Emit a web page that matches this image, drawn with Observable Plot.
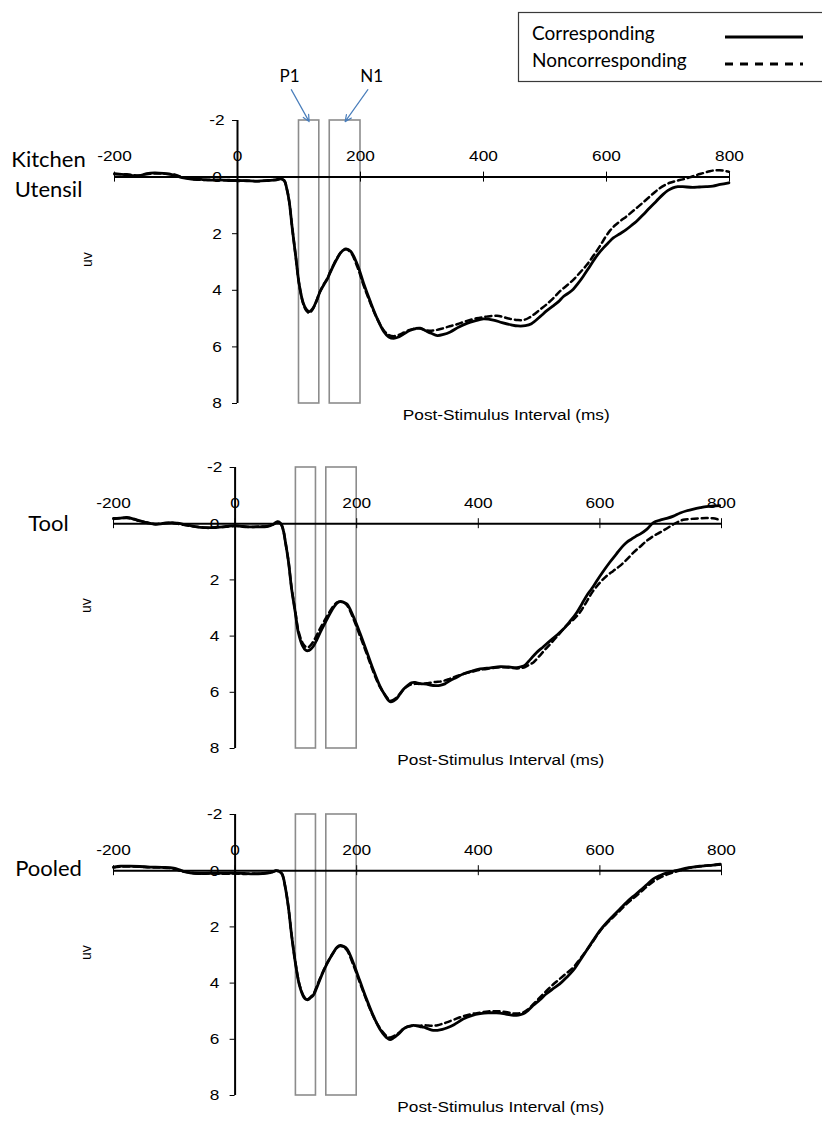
<!DOCTYPE html>
<html>
<head>
<meta charset="utf-8">
<script src="https://cdn.jsdelivr.net/npm/d3@7"></script>
<script src="https://cdn.jsdelivr.net/npm/@observablehq/plot@0.6"></script>
<style>
  html, body { margin: 0; padding: 0; background: #fff; }
  #page { position: relative; width: 822px; height: 1121px; overflow: hidden; background: #fff; }
  .panel { position: absolute; left: 0; }
  #legend { position: absolute; left: 0; top: 0; }
</style>
</head>
<body>
<div id="page"></div>
<script>
// ---- Axis ticks, labels and component windows ----
const xTicks = [-200, 0, 200, 400, 600, 800];
const yTicks = [-2, 0, 2, 4, 6, 8];
const seriesNames = ["Corresponding", "Noncorresponding"];
const panelNames = ["Kitchen\nUtensil", "Tool", "Pooled"];
const xLabel = "Post-Stimulus Interval (ms)";
const yLabel = "uv";
// ERP component windows (ms)
const windows = [
  {name: "P1", start: 100, end: 133},
  {name: "N1", start: 150, end: 200}
];

// ---- Grand-average waveforms: [time (ms), amplitude (uV)] ----
const kitchenCorr = [[-200,-0.12],[-180,-0.08],[-162,-0.04],[-148,-0.12],[-135,-0.15],[-120,-0.13],[-105,-0.08],[-90,0.02],[-75,0.07],[-59,0.08],[-45,0.11],[-32,0.1],[-15,0.12],[0,0.12],[15,0.13],[32,0.14],[50,0.12],[62,0.1],[70,0.06],[76,0.12],[80,0.4],[84,0.85],[89,1.8],[95,2.86],[100,3.75],[107,4.46],[112,4.68],[117,4.75],[122,4.66],[128,4.4],[134,4.06],[140,3.82],[146,3.6],[151,3.36],[157,3.08],[163,2.84],[168,2.67],[176,2.54],[184,2.62],[195,3.1],[205,3.75],[216,4.4],[227,4.99],[238,5.46],[246,5.65],[254,5.7],[262,5.65],[270,5.55],[280,5.42],[290,5.35],[297,5.34],[305,5.42],[315,5.52],[325,5.6],[335,5.56],[346,5.47],[360,5.3],[373,5.17],[386,5.08],[400,5.01],[416,5.05],[430,5.14],[445,5.22],[456,5.26],[468,5.25],[478,5.18],[492,4.93],[503,4.72],[514,4.54],[522,4.4],[530,4.22],[538,4.1],[546,3.96],[554,3.75],[562,3.51],[570,3.25],[578,2.98],[586,2.73],[595,2.5],[603,2.32],[611,2.15],[622,2.0],[632,1.86],[640,1.72],[649,1.56],[660,1.32],[670,1.09],[681,0.85],[692,0.61],[700,0.47],[708,0.38],[716,0.34],[724,0.34],[740,0.36],[751,0.35],[762,0.34],[773,0.32],[785,0.26],[799,0.2]];
const kitchenNonc = [[-200,-0.1],[-180,-0.1],[-162,-0.06],[-148,-0.1],[-135,-0.13],[-120,-0.12],[-105,-0.1],[-90,0.0],[-75,0.06],[-59,0.1],[-45,0.09],[-32,0.12],[-15,0.1],[0,0.14],[15,0.12],[32,0.15],[50,0.11],[62,0.1],[70,0.07],[76,0.13],[80,0.4],[84,0.85],[89,1.8],[95,2.86],[100,3.75],[107,4.48],[112,4.72],[117,4.8],[122,4.68],[128,4.4],[134,4.05],[140,3.8],[146,3.58],[151,3.34],[157,3.06],[163,2.82],[168,2.66],[176,2.55],[184,2.66],[195,3.18],[205,3.82],[216,4.45],[227,5.0],[238,5.42],[246,5.58],[254,5.62],[262,5.58],[270,5.5],[280,5.4],[290,5.35],[297,5.35],[308,5.42],[318,5.42],[330,5.37],[345,5.27],[357,5.2],[373,5.08],[389,4.99],[405,4.93],[422,4.9],[433,4.95],[443,5.01],[455,5.05],[465,5.05],[474,4.97],[481,4.87],[492,4.68],[503,4.49],[514,4.27],[524,4.04],[535,3.84],[546,3.63],[557,3.37],[568,3.1],[578,2.8],[589,2.45],[597,2.16],[605,1.91],[613,1.72],[622,1.56],[633,1.38],[643,1.2],[654,1.0],[665,0.79],[676,0.58],[686,0.4],[695,0.28],[703,0.2],[714,0.13],[724,0.08],[735,0.01],[746,-0.07],[757,-0.14],[768,-0.21],[777,-0.24],[784,-0.24],[792,-0.22],[799,-0.19]];

const toolCorr = [[-200,-0.19],[-190,-0.2],[-178,-0.22],[-167,-0.17],[-156,-0.1],[-144,-0.03],[-131,0.02],[-118,-0.01],[-104,-0.04],[-95,-0.02],[-85,0.02],[-72,0.08],[-57,0.13],[-44,0.14],[-30,0.13],[-15,0.1],[0,0.07],[12,0.1],[25,0.11],[40,0.11],[52,0.1],[58,0.07],[63,0.02],[67,-0.04],[70,-0.07],[74,-0.03],[77,0.07],[80,0.3],[82,0.55],[85,0.95],[88,1.38],[93,2.33],[99,3.16],[104,3.87],[111,4.35],[116,4.5],[120,4.52],[124,4.47],[129,4.35],[134,4.15],[140,3.87],[151,3.4],[162,2.98],[168,2.82],[173,2.77],[178,2.79],[184,2.86],[194,3.28],[205,3.87],[216,4.52],[227,5.18],[238,5.77],[247,6.12],[252,6.28],[256,6.34],[261,6.3],[266,6.22],[271,6.07],[277,5.89],[284,5.75],[290,5.66],[296,5.65],[304,5.69],[315,5.71],[321,5.74],[330,5.76],[337,5.75],[345,5.7],[353,5.59],[364,5.47],[375,5.35],[389,5.25],[403,5.17],[420,5.13],[436,5.09],[450,5.1],[463,5.12],[470,5.09],[477,5.03],[486,4.82],[496,4.58],[507,4.38],[518,4.17],[529,3.97],[540,3.75],[551,3.47],[562,3.16],[570,2.87],[578,2.57],[587,2.3],[595,2.03],[605,1.71],[616,1.38],[627,1.08],[638,0.79],[645,0.65],[652,0.55],[659,0.45],[666,0.37],[677,0.2],[688,-0.04],[699,-0.13],[710,-0.19],[721,-0.27],[732,-0.38],[743,-0.46],[754,-0.52],[765,-0.57],[775,-0.61],[786,-0.63],[797,-0.64]];
const toolNonc = [[-200,-0.17],[-190,-0.19],[-178,-0.2],[-167,-0.16],[-156,-0.09],[-144,-0.04],[-131,0.01],[-118,-0.02],[-104,-0.03],[-95,0.0],[-85,0.04],[-72,0.09],[-57,0.12],[-44,0.15],[-30,0.12],[-15,0.11],[0,0.08],[12,0.09],[25,0.12],[40,0.1],[52,0.1],[58,0.06],[63,0.02],[67,-0.03],[70,-0.06],[74,-0.02],[77,0.08],[80,0.3],[82,0.55],[85,0.95],[88,1.38],[93,2.3],[99,3.12],[104,3.8],[111,4.25],[116,4.38],[120,4.4],[124,4.33],[129,4.18],[134,3.98],[140,3.72],[151,3.3],[162,2.92],[168,2.8],[173,2.77],[178,2.8],[184,2.9],[194,3.35],[205,3.97],[216,4.6],[227,5.25],[238,5.8],[247,6.1],[252,6.24],[256,6.3],[261,6.26],[266,6.18],[271,6.05],[277,5.9],[284,5.78],[290,5.72],[296,5.7],[304,5.7],[315,5.68],[321,5.66],[330,5.63],[337,5.62],[345,5.58],[353,5.52],[364,5.43],[375,5.35],[389,5.27],[403,5.2],[420,5.15],[436,5.11],[450,5.12],[463,5.15],[470,5.14],[477,5.1],[485,5.0],[490,4.95],[500,4.72],[509,4.5],[518,4.29],[528,4.05],[536,3.85],[545,3.63],[556,3.42],[567,3.16],[578,2.78],[589,2.39],[600,2.1],[611,1.86],[622,1.68],[633,1.5],[644,1.28],[655,1.03],[666,0.82],[677,0.61],[688,0.44],[699,0.31],[710,0.17],[721,0.02],[729,-0.07],[737,-0.14],[750,-0.17],[764,-0.19],[775,-0.2],[786,-0.19],[798,-0.13]];

const pooledCorr = [[-200,-0.13],[-188,-0.16],[-173,-0.16],[-157,-0.15],[-140,-0.13],[-120,-0.12],[-101,-0.09],[-88,0.0],[-74,0.08],[-58,0.1],[-41,0.09],[-20,0.09],[0,0.09],[15,0.1],[30,0.11],[45,0.1],[55,0.08],[62,0.04],[67,0.0],[72,0.02],[77,0.11],[80,0.3],[82,0.53],[85,0.9],[88,1.36],[93,2.31],[99,3.26],[106,4.09],[113,4.5],[117,4.58],[120,4.59],[124,4.52],[129,4.42],[134,4.18],[140,3.85],[151,3.32],[162,2.9],[168,2.72],[173,2.66],[178,2.69],[184,2.78],[194,3.26],[205,3.91],[216,4.56],[227,5.15],[238,5.63],[247,5.89],[251,5.97],[255,6.01],[260,5.96],[266,5.86],[271,5.77],[277,5.63],[284,5.55],[290,5.51],[297,5.51],[304,5.55],[310,5.57],[318,5.63],[326,5.68],[333,5.68],[341,5.65],[348,5.6],[360,5.48],[375,5.28],[389,5.16],[403,5.09],[416,5.06],[430,5.06],[445,5.1],[458,5.15],[466,5.14],[474,5.09],[482,4.97],[490,4.8],[501,4.6],[512,4.38],[523,4.2],[534,4.03],[545,3.8],[556,3.55],[567,3.2],[578,2.84],[589,2.48],[600,2.13],[611,1.85],[622,1.6],[633,1.36],[644,1.12],[655,0.91],[666,0.71],[677,0.5],[688,0.29],[699,0.17],[710,0.08],[721,0.02],[732,-0.04],[742,-0.09],[753,-0.13],[764,-0.16],[775,-0.18],[786,-0.2],[798,-0.23]];
const pooledNonc = [[-200,-0.11],[-188,-0.14],[-173,-0.15],[-157,-0.14],[-140,-0.12],[-120,-0.11],[-101,-0.07],[-88,0.02],[-74,0.07],[-58,0.11],[-41,0.1],[-20,0.11],[0,0.1],[15,0.12],[30,0.1],[45,0.11],[55,0.07],[62,0.04],[67,0.0],[72,0.02],[77,0.11],[80,0.3],[82,0.53],[85,0.9],[88,1.36],[93,2.3],[99,3.24],[106,4.06],[113,4.47],[117,4.56],[120,4.57],[124,4.5],[129,4.38],[134,4.14],[140,3.82],[151,3.3],[162,2.9],[168,2.73],[173,2.68],[178,2.72],[184,2.83],[194,3.33],[205,3.97],[216,4.6],[227,5.17],[238,5.6],[247,5.84],[251,5.91],[255,5.94],[260,5.9],[266,5.82],[271,5.74],[277,5.62],[284,5.55],[290,5.53],[297,5.52],[304,5.52],[310,5.5],[318,5.51],[326,5.52],[333,5.5],[341,5.45],[348,5.4],[360,5.3],[375,5.18],[389,5.1],[403,5.05],[416,5.01],[430,5.0],[445,5.03],[458,5.08],[466,5.08],[474,5.04],[482,4.93],[490,4.76],[501,4.52],[512,4.28],[523,4.05],[534,3.85],[545,3.65],[556,3.45],[567,3.15],[578,2.84],[589,2.5],[600,2.15],[611,1.88],[622,1.65],[633,1.42],[644,1.18],[655,0.98],[666,0.78],[677,0.57],[688,0.38],[699,0.25],[710,0.14],[721,0.06],[732,-0.01],[742,-0.08],[753,-0.12],[764,-0.15],[775,-0.18],[786,-0.2],[798,-0.22]];

// ---- Drawing ----
const W = 822;
const AXIS_FONT = "Liberation Sans";
const axisText = {fontFamily: AXIS_FONT, fontSize: 15, fill: "black"};
const page = document.getElementById("page");

function drawPanel(cfg) {
  const {corr, nonc, name, top, height, marginTop, marginBottom, marginLeft, marginRight, callouts} = cfg;
  const innerH = height - marginTop - marginBottom;
  const innerW = W - marginLeft - marginRight;
  const yPerPx = 10 / innerH;
  const xPerPx = 1000 / innerW;
  const mid = (d) => (d.start + d.end) / 2;

  const marks = [
    // component windows
    Plot.rect(windows, {x1: "start", x2: "end", y1: -2, y2: 8, fill: "none", stroke: "#8c8c8c", strokeWidth: 1.6}),
    // axes crossing at the origin
    Plot.ruleY([0], {x1: -200, x2: 800, stroke: "black", strokeWidth: 2}),
    Plot.ruleX([0], {y1: -2, y2: 8, stroke: "black", strokeWidth: 2}),
    Plot.ruleX(xTicks, {x: (d) => d, y1: -5 * yPerPx, y2: 5 * yPerPx, stroke: "black", strokeWidth: 1}),
    Plot.ruleY(yTicks, {y: (d) => d, x1: -5 * xPerPx, x2: 0, stroke: "black", strokeWidth: 1}),
    Plot.text(xTicks, {x: (d) => d, y: 0, dy: -21, text: (d) => String(d), ...axisText}),
    Plot.text(yTicks, {x: 0, y: (d) => d, dx: -20.5, text: (d) => String(d), ...axisText}),
    // waveforms
    Plot.line(nonc, {x: (d) => d[0], y: (d) => d[1], stroke: "black", strokeWidth: 2.5, strokeDasharray: "6,4", curve: "catmull-rom"}),
    Plot.line(corr, {x: (d) => d[0], y: (d) => d[1], stroke: "black", strokeWidth: 2.8, curve: "catmull-rom"}),
    // titles
    Plot.text([xLabel], {x: 437, frameAnchor: "bottom", dy: 16, text: (d) => d, ...axisText}),
    Plot.text([yLabel], {frameAnchor: "left", dx: -27, dy: 5, rotate: -90, text: (d) => d,
      fontFamily: "Liberation Sans, sans-serif", fontSize: 14, fill: "black"}),
    Plot.text([name], {x: -200, y: 0, dx: 48 - marginLeft, dy: cfg.nameDy, text: (d) => d,
      fontFamily: "Lato", fontSize: 22, lineHeight: 1.36, fill: "black"})
  ];

  if (callouts) {
    const tail = {P1: -29, N1: 37};
    const lab = {P1: -32, N1: 43};
    marks.push(
      Plot.arrow(windows, {x1: (d) => mid(d) + tail[d.name], y1: -3.09, x2: (d) => mid(d), y2: -1.96,
        stroke: "#4a7ebb", strokeWidth: 1.2, headLength: 9, headAngle: 50}),
      Plot.text(windows, {x: (d) => mid(d) + lab[d.name], y: -3.55, text: "name",
        fontFamily: "Lato", fontSize: 17, fill: "black"})
    );
  }

  const svg = Plot.plot({
    width: W,
    height,
    marginTop, marginBottom, marginLeft, marginRight,
    x: {domain: [-200, 800], axis: null},
    y: {domain: [-2, 8], reverse: true, axis: null},
    style: {background: "transparent", overflow: "visible"},
    marks
  });

  // chart text set in the sans axis face is drawn slightly wide
  svg.querySelectorAll(`g[font-family="${AXIS_FONT}"] text`).forEach((t) => {
    const tr = t.getAttribute("transform");
    if (tr) t.setAttribute("transform", tr + " scale(1.15,1)");
  });

  const holder = document.createElement("div");
  holder.className = "panel";
  holder.style.top = top + "px";
  holder.appendChild(svg);
  page.appendChild(holder);
}

drawPanel({corr: kitchenCorr, nonc: kitchenNonc, name: panelNames[0], top: 0, height: 433,
  marginTop: 120, marginBottom: 30, marginLeft: 114, marginRight: 93, nameDy: -5, callouts: true});
drawPanel({corr: toolCorr, nonc: toolNonc, name: panelNames[1], top: 436, height: 342,
  marginTop: 31, marginBottom: 30, marginLeft: 113, marginRight: 101, nameDy: -2});
drawPanel({corr: pooledCorr, nonc: pooledNonc, name: panelNames[2], top: 780, height: 341,
  marginTop: 34, marginBottom: 26, marginLeft: 113, marginRight: 101, nameDy: -4});

// ---- Legend ----
const legend = d3.select(page).append("svg")
  .attr("id", "legend").attr("width", W).attr("height", 90);
legend.append("rect")
  .attr("x", 518.5).attr("y", 12.5).attr("width", 320).attr("height", 69)
  .attr("fill", "white").attr("stroke", "#3a3a3a").attr("stroke-width", 1.2);
const rows = legend.selectAll("g.row").data(seriesNames).join("g").attr("class", "row");
rows.append("text")
  .attr("x", 532).attr("y", (d, i) => 40 + i * 26.7)
  .attr("font-family", "Lato").attr("font-size", 19).attr("fill", "black")
  .text((d) => d);
rows.append("line")
  .attr("x1", 725).attr("x2", 803)
  .attr("y1", (d, i) => 37 + i * 27).attr("y2", (d, i) => 37 + i * 27)
  .attr("stroke", "black").attr("stroke-width", 2.8)
  .attr("stroke-dasharray", (d, i) => i ? "8,7" : null);
</script>
</body>
</html>
